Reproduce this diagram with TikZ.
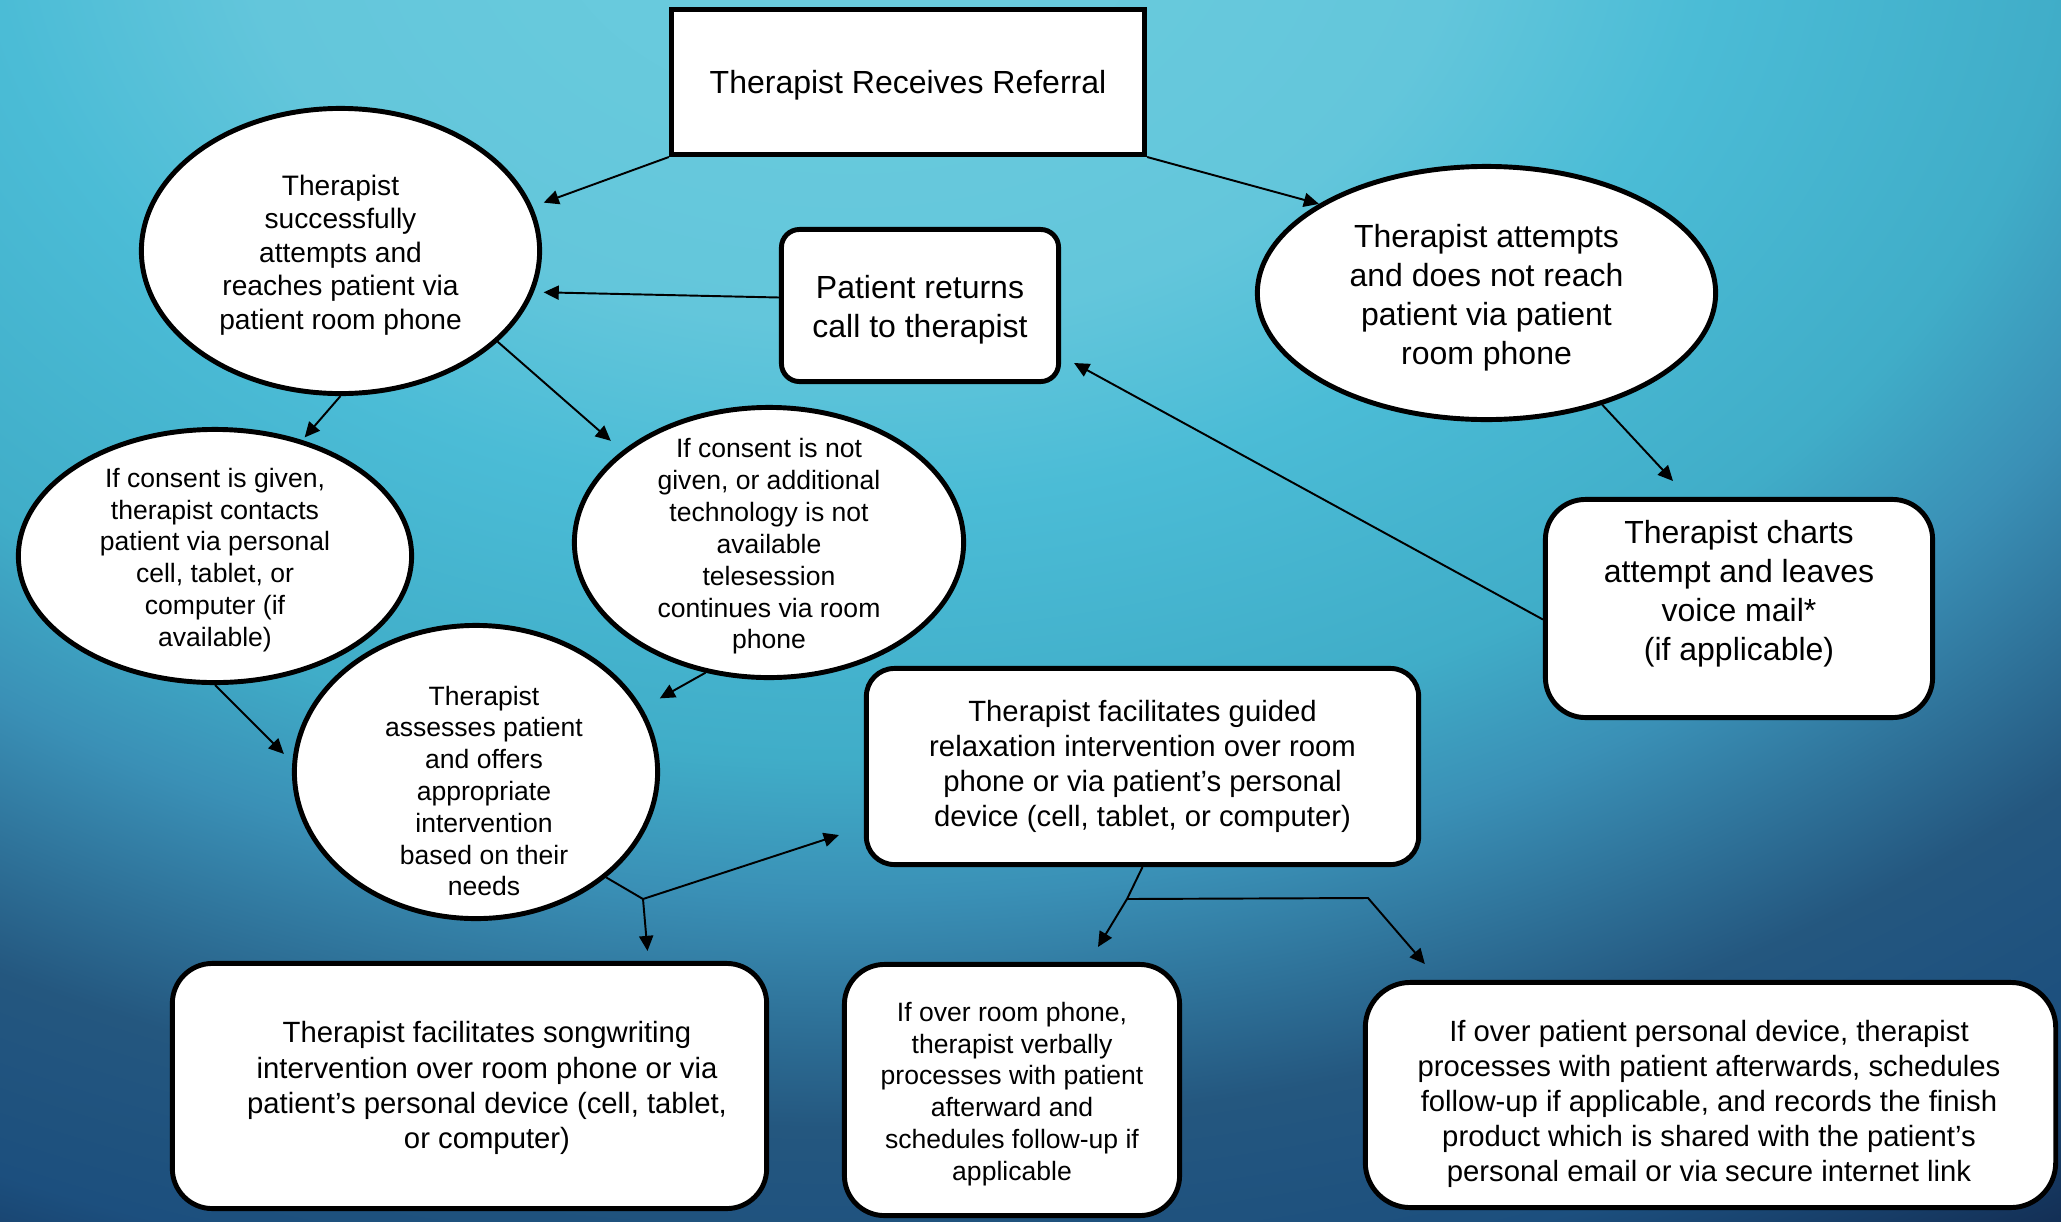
\documentclass[tikz,border=0pt]{standalone}
\usepackage{fontspec}
\setmainfont{Liberation Sans}
\usetikzlibrary{shapes.geometric,arrows.meta,calc}
\definecolor{c0}{HTML}{6CCDDE}
\definecolor{c1}{HTML}{63C6DB}
\definecolor{c2}{HTML}{4BBCD6}
\definecolor{c3}{HTML}{40ADC8}
\definecolor{c4}{HTML}{3A90B6}
\definecolor{c5}{HTML}{24577F}
\definecolor{c6}{HTML}{1C4F7E}
\definecolor{c7}{HTML}{132F55}
\definecolor{c8}{HTML}{112C50}
\pgfdeclareradialshading{bgshade}{\pgfpoint{0bp}{0bp}}{%
color(0bp)=(c0); color(6.45bp)=(c1); color(9.14bp)=(c2); color(13bp)=(c3);
color(15.1bp)=(c4); color(18.6bp)=(c5); color(21.3bp)=(c6); color(23.8bp)=(c7);
color(25bp)=(c8); color(50bp)=(c8)}
\begin{document}
\begin{tikzpicture}[x=0.01cm,y=-0.01cm,
  conn/.style={line width=0.55pt,-{Triangle[length=4.3pt,width=4pt]}},
  plain/.style={line width=0.55pt},
  ell/.style={ellipse,draw,fill=white,line width=1.4pt,inner sep=0pt},
  sqbox/.style={rectangle,draw,fill=white,line width=1.4pt,inner sep=0pt},
  rbox/.style={sqbox,rounded corners=#1},
  ta/.style={align=center,inner sep=0pt,font=\fontsize{8}{9.5}\selectfont},
  ts/.style={align=center,inner sep=0pt,font=\fontsize{7.55}{9.05}\selectfont},
  tm/.style={align=center,inner sep=0pt,font=\fontsize{8.33}{10}\selectfont},
  tl/.style={align=center,inner sep=0pt,font=\fontsize{9.1}{11.1}\selectfont},
]
\useasboundingbox (0,0) rectangle (2061,1221);
\begin{scope}
  \clip (0,0) rectangle (2061,1221);
  \shade[shading=bgshade] (-1507,-1750) rectangle (3207,1550);
\end{scope}

% shapes
\node[sqbox,minimum width=4.73cm,minimum height=1.45cm] (T) at (908,82) {};
\node[ell,minimum width=3.98cm,minimum height=2.85cm] (A) at (340.5,251) {};
\node[rbox=0.18cm,minimum width=2.77cm,minimum height=1.52cm] (P) at (920,305.5) {};
\node[ell,minimum width=4.58cm,minimum height=2.53cm] (B) at (1486.5,293) {};
\node[rbox=0.4cm,minimum width=3.87cm,minimum height=2.18cm] (Ch) at (1739,608.5) {};
\node[ell,minimum width=3.93cm,minimum height=2.53cm] (C) at (215,556) {};
\node[ell,minimum width=3.89cm,minimum height=2.70cm] (D) at (769,542.5) {};
\node[ell,minimum width=3.63cm,minimum height=2.93cm] (E) at (476,772) {};
\node[rbox=0.28cm,minimum width=5.52cm,minimum height=1.96cm] (F) at (1142.5,766.5) {};
\node[rbox=0.4cm,minimum width=5.94cm,minimum height=2.45cm] (G) at (469.5,1086) {};
\node[rbox=0.4cm,minimum width=3.35cm,minimum height=2.51cm] (H) at (1012,1090) {};
\node[rbox=0.45cm,minimum width=6.90cm,minimum height=2.25cm] (I) at (1710.5,1095) {};

% texts
\node[tl] (Tt) at (908,85) {Therapist Receives Referral};
\node[ta] (At) at (340.5,255) {Therapist\\successfully\\attempts and\\reaches patient via\\patient room phone};
\node[tl] (Pt) at (920,309.5) {Patient returns\\call to therapist};
\node[tl] (Bt) at (1486.5,298) {Therapist attempts\\and does not reach\\patient via patient\\room phone};
\node[tl] (Cht) at (1739,594) {Therapist charts\\attempt and leaves\\voice mail*\\(if applicable)};
\node[ts] (Ct) at (215,560) {If consent is given,\\therapist contacts\\patient via personal\\cell, tablet, or\\computer (if\\available)};
\node[ts] (Dt) at (769,546.5) {If consent is not\\given, or additional\\technology is not\\available\\telesession\\continues via room\\phone};
\node[ts] (Et) at (484,791) {Therapist\\assesses patient\\and offers\\appropriate\\intervention\\based on their\\needs};
\node[tm] (Ft) at (1142.5,766.5) {Therapist facilitates guided\\relaxation intervention over room\\phone or via patient’s personal\\device (cell, tablet, or computer)};
\node[tm] (Gt) at (487,1088) {Therapist facilitates songwriting\\intervention over room phone or via\\patient’s personal device (cell, tablet,\\or computer)};
\node[ts] (Ht) at (1012,1094) {If over room phone,\\therapist verbally\\processes with patient\\afterward and\\schedules follow-up if\\applicable};
\node[tm] (It) at (1709,1104) {If over patient personal device, therapist\\processes with patient afterwards, schedules\\follow-up if applicable, and records the finish\\product which is shared with the patient’s\\personal email or via secure internet link};

% connectors
\draw[conn,shorten >=3.4pt] (T.south west) -- (A.13);
\draw[conn] (T.south east) -- (B.152);
\draw[conn,shorten >=2.8pt] ($(P.west)+(0,-8)$) -- (A.-12);
\draw[conn] ($(Ch.west)+(0,11)$) -- ($(P.south east)+(13,-21)$);
\draw[conn] (B.-44) -- ($(Ch.north)+(-66,-16)$);
\draw[conn,shorten >=1pt] (A.south) -- (C.53);
\draw[conn,shorten >=4.3pt] (A.-30) -- (D.148);
\draw[conn,shorten >=3.4pt] (C.south) -- (E.177);
\draw[conn,shorten >=5.7pt] (D.-116) -- (E.21);

\coordinate (J1) at (643,899);
\draw[plain] (E.-39) -- (J1);
\draw[conn] (J1) -- ($(F.south west)+(-25,-32)$);
\draw[conn] (J1) -- ($(G.north)+(178,-10)$);

\coordinate (J2) at (1127,899);
\coordinate (J3) at (1368,898);
\draw[plain] (F.south) -- (J2);
\draw[conn] (J2) -- ($(H.north)+(86,-15)$);
\draw[conn] (J2) -- (J3) -- ($(I.north west)+(62,-16)$);
\end{tikzpicture}
\end{document}
